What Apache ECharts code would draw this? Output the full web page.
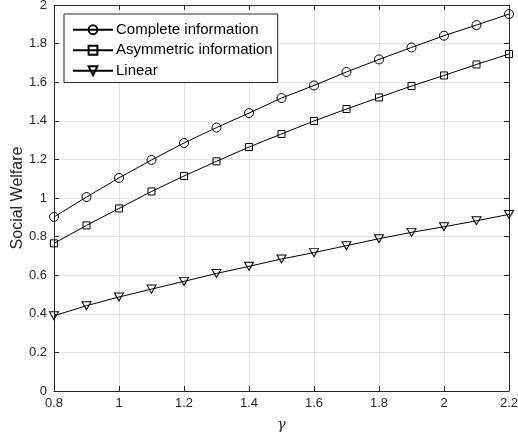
<!DOCTYPE html>
<html>
<head>
<meta charset="utf-8">
<script src="https://cdn.jsdelivr.net/npm/echarts@6/dist/echarts.min.js"></script>
<style>html,body{margin:0;padding:0;background:#fff}#c{width:518px;height:436px}</style>
</head>
<body>
<div id="c"></div>
<script>
var gamma = [0.8, 0.9, 1.0, 1.1, 1.2, 1.3, 1.4, 1.5, 1.6, 1.7, 1.8, 1.9, 2.0, 2.1, 2.2];
var complete = [0.902, 1.005, 1.104, 1.197, 1.285, 1.365, 1.440, 1.518, 1.583, 1.653, 1.718, 1.780, 1.841, 1.896, 1.953];
var asymmetric = [0.765, 0.858, 0.946, 1.034, 1.114, 1.190, 1.264, 1.332, 1.399, 1.461, 1.521, 1.580, 1.635, 1.692, 1.746];
var linear = [0.390, 0.442, 0.487, 0.528, 0.568, 0.609, 0.646, 0.684, 0.717, 0.753, 0.789, 0.822, 0.851, 0.882, 0.915];
var seriesNames = ['Complete information', 'Asymmetric information', 'Linear'];
var xTicks = {min: 0.8, max: 2.2, interval: 0.2};
var yTicks = {min: 0, max: 2, interval: 0.2};

function pairs(ys) { return gamma.map(function (g, i) { return [g, ys[i]]; }); }

var axisCol = '#262626';
var font = 'Liberation Sans, Arial, Helvetica, sans-serif';
var chart = echarts.init(document.getElementById('c'), null, {renderer: 'canvas'});

function mkX(pos, showLabel, extra) {
  return Object.assign({
    type: 'value', position: pos, min: xTicks.min, max: xTicks.max, interval: xTicks.interval,
    axisLine: {show: true, onZero: false, lineStyle: {color: axisCol, width: 1}},
    axisTick: {show: true, inside: true, length: 5, lineStyle: {color: axisCol}},
    axisLabel: {show: showLabel, color: axisCol, fontSize: 13, fontFamily: font, margin: 6},
    splitLine: {show: showLabel, lineStyle: {color: '#e3e3e3', width: 1}}
  }, extra || {});
}
function mkY(pos, showLabel, extra) {
  return Object.assign({
    type: 'value', position: pos, min: yTicks.min, max: yTicks.max, interval: yTicks.interval,
    axisLine: {show: true, onZero: false, lineStyle: {color: axisCol, width: 1}},
    axisTick: {show: true, inside: true, length: 5, lineStyle: {color: axisCol}},
    axisLabel: {show: showLabel, color: axisCol, fontSize: 13, fontFamily: font, margin: 7},
    splitLine: {show: showLabel, lineStyle: {color: '#e3e3e3', width: 1}}
  }, extra || {});
}

var lineStyle = {color: '#000', width: 1};
var itemStyle = {color: 'rgba(0,0,0,0)', borderColor: '#000', borderWidth: 1};

chart.setOption({
  animation: false,
  backgroundColor: '#fff',
  grid: {left: 54, right: 9, top: 5, bottom: 45, containLabel: false, outerBoundsMode: 'none'},
  xAxis: [
    mkX('bottom', true, {name: 'γ', nameLocation: 'middle', nameGap: 27, nameMoveOverlap: false,
      nameTextStyle: {fontFamily: 'DejaVu Serif, Liberation Serif, serif', fontStyle: 'italic', fontSize: 14, color: axisCol}}),
    mkX('top', false)
  ],
  yAxis: [
    mkY('left', true, {name: 'Social Welfare', nameLocation: 'middle', nameGap: 28, nameMoveOverlap: false,
      nameTextStyle: {fontFamily: font, fontSize: 16, color: axisCol}}),
    mkY('right', false)
  ],
  legend: {
    show: true, orient: 'vertical', left: 64, top: 14,
    backgroundColor: '#fff', borderColor: axisCol, borderWidth: 1,
    padding: [8, 5, 4, 8], itemGap: 5, itemWidth: 40, itemHeight: 11,
    textStyle: {fontFamily: font, fontSize: 15, lineHeight: 15.5, color: '#000', padding: [0, 0, 0, -2]},
    data: seriesNames
  },
  series: [
    {name: seriesNames[0], type: 'line', data: pairs(complete), symbol: 'circle', symbolSize: 9,
      showAllSymbol: true, lineStyle: lineStyle, itemStyle: itemStyle, z: 3},
    {name: seriesNames[1], type: 'line', data: pairs(asymmetric), symbol: 'rect', symbolSize: 7,
      showAllSymbol: true, lineStyle: lineStyle, itemStyle: itemStyle, z: 3},
    {name: seriesNames[2], type: 'line', data: pairs(linear), symbol: 'triangle', symbolRotate: 180, symbolSize: [9, 8],
      showAllSymbol: true, lineStyle: lineStyle, itemStyle: itemStyle, z: 3}
  ]
});
</script>
</body>
</html>
